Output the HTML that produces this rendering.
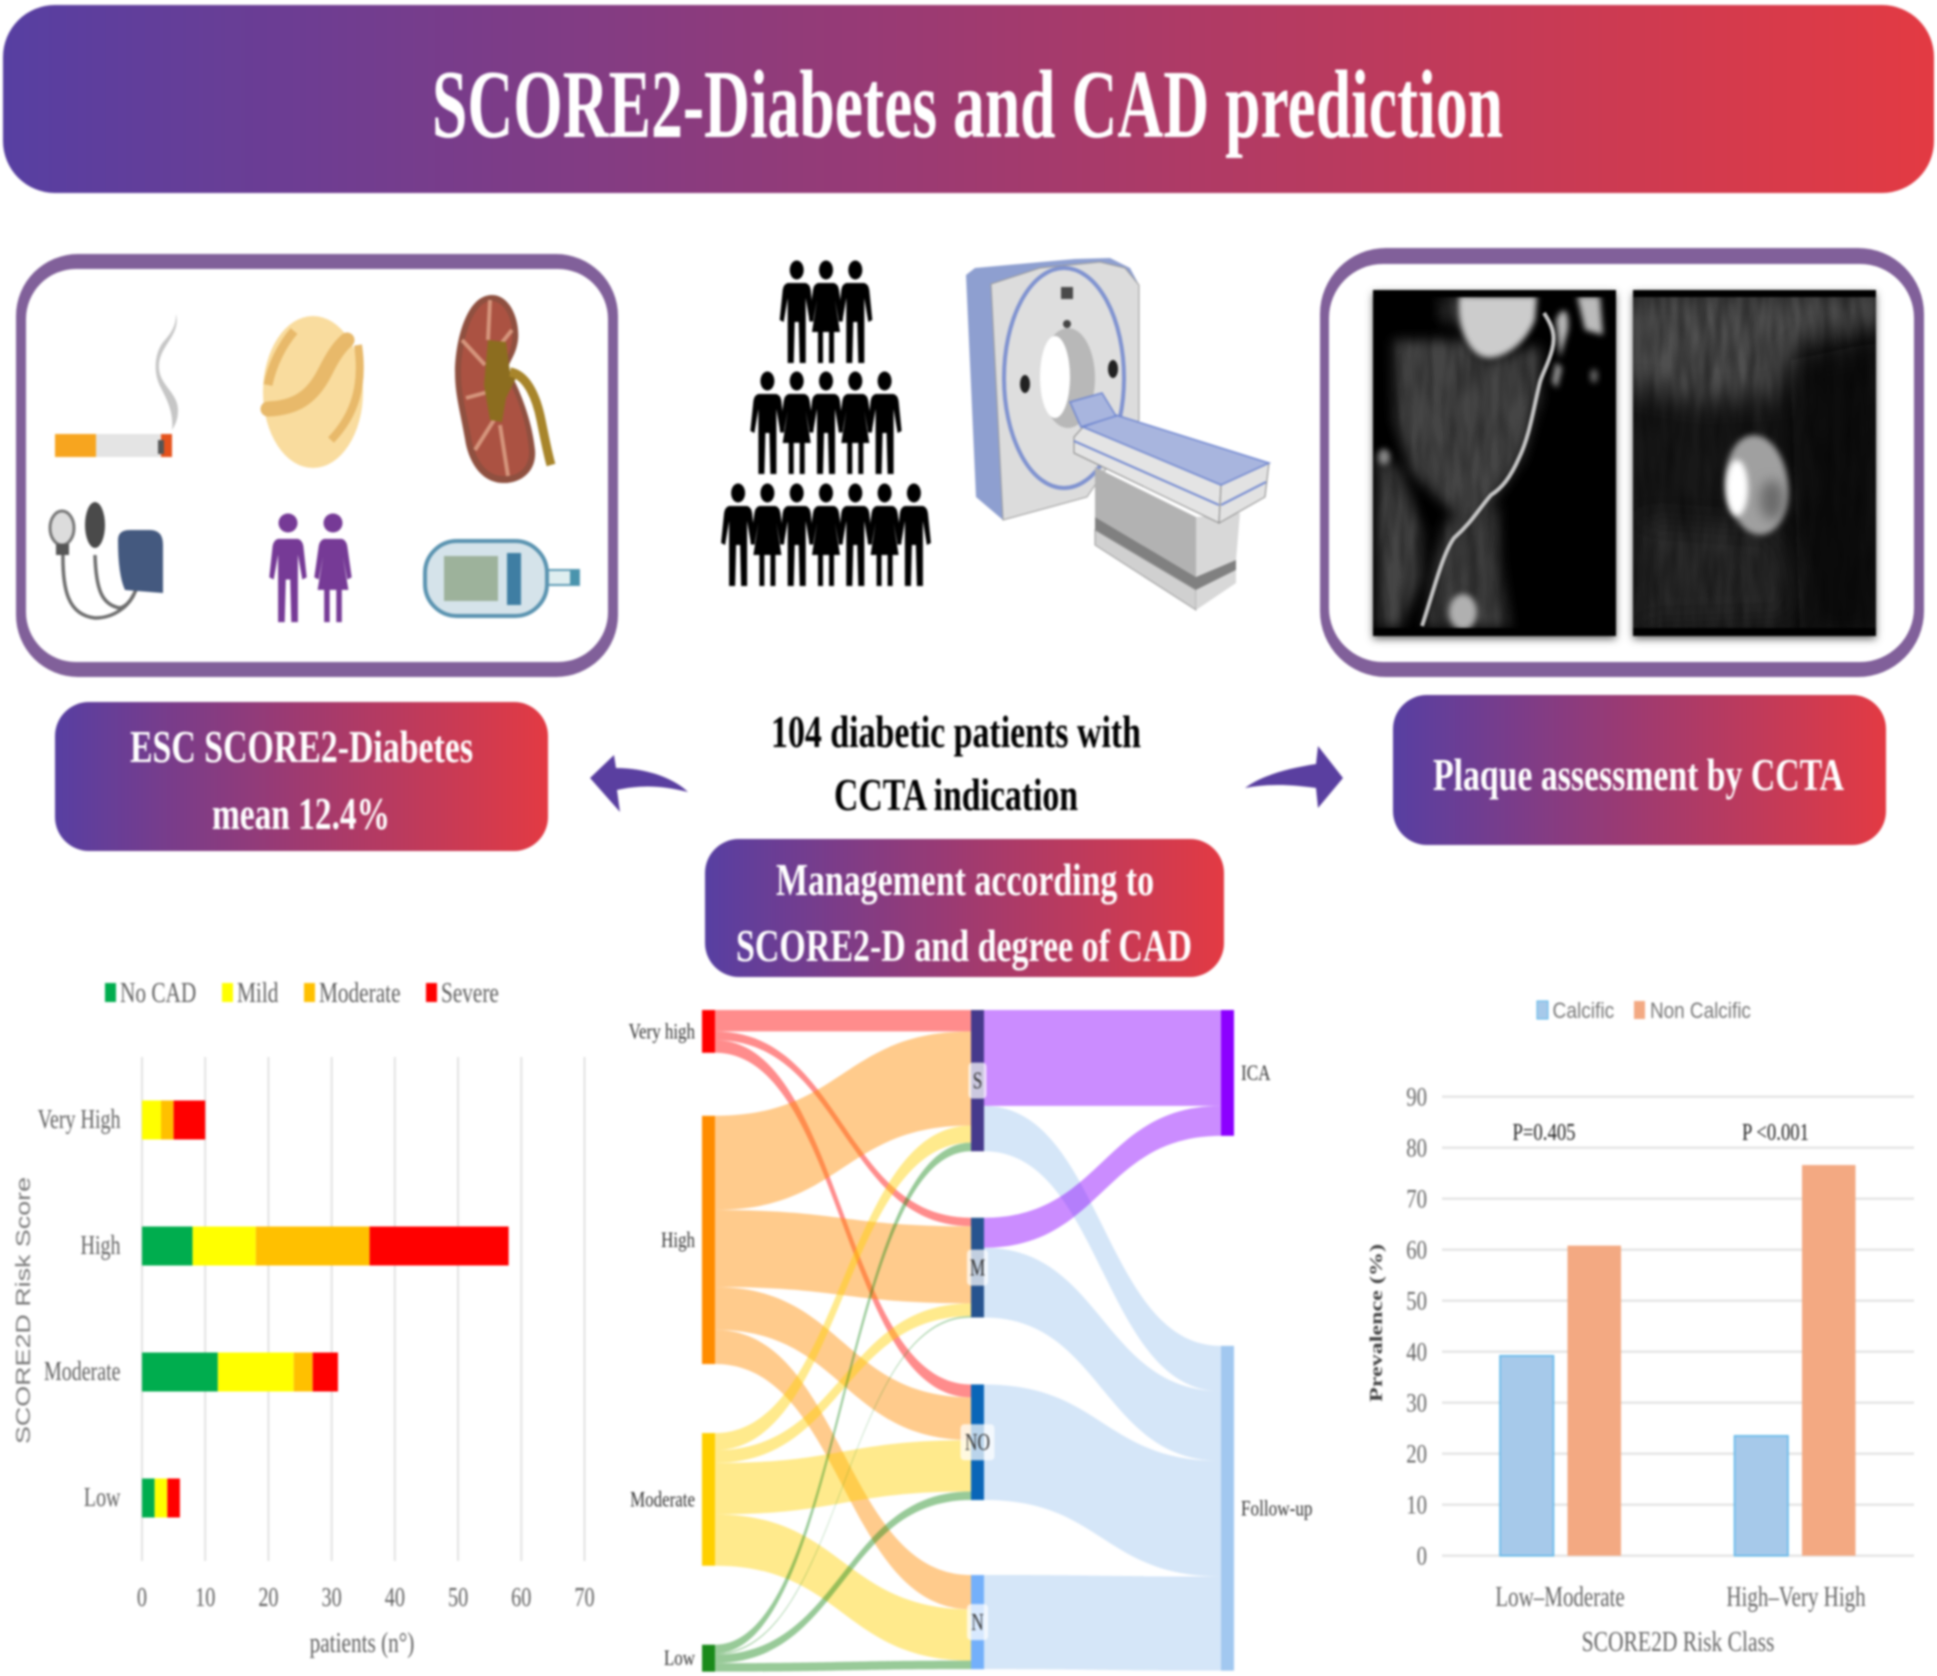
<!DOCTYPE html>
<html lang="en">
<head>
<meta charset="utf-8">
<title>SCORE2-Diabetes and CAD prediction</title>
<style>
html,body{margin:0;padding:0;background:#fff;}
#stage{display:block;width:1937px;height:1676px;filter:blur(1.1px);}
.serif{font-family:"Liberation Serif",serif;}
.sans{font-family:"Liberation Sans",sans-serif;}
.pilltxt{font-family:"Liberation Serif",serif;font-weight:bold;fill:#fff;font-size:46px;}
.blacktxt{font-family:"Liberation Serif",serif;font-weight:bold;fill:#000;font-size:46px;}
</style>
</head>
<body>
<svg id="stage" xmlns="http://www.w3.org/2000/svg" width="1937" height="1676" viewBox="0 0 1937 1676">
<defs>
<linearGradient id="brandGrad" x1="0" y1="0" x2="1" y2="0">
<stop offset="0" stop-color="#573fa2"/><stop offset="0.5" stop-color="#9f3a70"/><stop offset="1" stop-color="#e33a43"/>
</linearGradient>
<filter id="soft3" x="-50%" y="-50%" width="200%" height="200%"><feGaussianBlur stdDeviation="3"/></filter>
<filter id="soft6" x="-50%" y="-50%" width="200%" height="200%"><feGaussianBlur stdDeviation="6"/></filter>
<filter id="soft14" x="-50%" y="-50%" width="200%" height="200%"><feGaussianBlur stdDeviation="14"/></filter>
<filter id="shadow" x="-5%" y="-5%" width="110%" height="110%"><feGaussianBlur stdDeviation="4"/></filter>
<filter id="streaks" x="0" y="0" width="100%" height="100%">
<feTurbulence type="fractalNoise" baseFrequency="0.09 0.018" numOctaves="2" seed="4"/>
<feColorMatrix values="0 0 0 0 0  0 0 0 0 0  0 0 0 0 0  0 0 0 1.5 -0.45"/>
</filter>
<path id="manShape" d="M-9 23L9 23Q13 24 14 30L17 60L13 62L9 38L9 103L3 103L2 62L-2 62L-3 103L-9 103L-9 38L-13 62L-17 60L-14 30Q-13 24-9 23Z"/>
<path id="womanShape" d="M-8 23L8 23Q12 24 13 30L17 60L13 62L9 40L14 72L8 72L8 103L3 103L3 72L-3 72L-3 103L-8 103L-8 72L-14 72L-9 40L-13 62L-17 60L-13 30Q-12 24-8 23Z"/>
</defs>
<rect width="1937" height="1676" fill="#fff"/>

<!-- Header -->
<g>
<rect x="3" y="5" width="1931" height="188" rx="52" ry="52" fill="url(#brandGrad)"/>
<text x="432" y="137" class="serif" font-weight="bold" font-size="98" fill="#fff" textLength="1071" lengthAdjust="spacingAndGlyphs">SCORE2-Diabetes and CAD prediction</text>
</g>

<!-- Left risk factor box -->
<g>
<rect x="16" y="254" width="602" height="423" rx="62" ry="62" fill="#81609a"/>
<rect x="26" y="269" width="582" height="393" rx="50" ry="50" fill="#fff"/>
<g>
<rect x="55" y="434" width="41" height="23" fill="#f7a51f"/>
<rect x="96" y="434" width="65" height="23" fill="#e4e4e4"/>
<rect x="161" y="434" width="11" height="23" fill="#e5521c"/>
<rect x="158" y="440" width="6" height="14" fill="#555"/>
<path d="M176 314C181 335 160 345 159 365C158 385 178 392 178 410C178 420 175 425 172 430C174 412 166 398 161 388C152 372 155 350 165 340C172 332 176 325 176 314Z" fill="#c6c6c6"/>
</g>
<g>
<ellipse cx="313" cy="392" rx="50" ry="76" fill="#f9dc9e"/>
<path d="M268 409C295 408 312 398 325 372C332 358 338 348 347 340" fill="none" stroke="#e8b96a" stroke-width="15" stroke-linecap="round"/>
<path d="M268 385C272 365 282 345 294 331" fill="none" stroke="#e8b96a" stroke-width="9"/>
<path d="M358 345C364 385 355 415 331 440" fill="none" stroke="#e8b96a" stroke-width="8"/>
</g>
<g>
<path d="M492 295C510 295 520 320 518 340C516 355 510 360 508 368C520 390 532 420 535 450C537 472 520 484 502 483C480 482 468 460 465 439C460 410 455 395 455 372C455 345 465 295 492 295Z" fill="#8f5040"/>
<path d="M492 301C506 302 514 322 512 340C510 358 502 362 504 372C516 392 527 422 529 450C530 468 518 477 502 476C484 475 474 456 471 437C466 410 461 395 461 372C461 348 470 301 492 301Z" fill="#ab5242"/>
<path d="M490 300L488 340M462 340L485 365M466 398L488 392M475 450L494 420M508 476L500 425M512 330L500 345" stroke="#d5957c" stroke-width="4" fill="none"/>
<path d="M488 340L506 342L510 372L517 376L506 398L502 422L490 420L484 385Z" fill="#8c6d1f"/>
<path d="M510 372C528 375 537 400 541 420C545 440 548 455 551 465" fill="none" stroke="#a8852b" stroke-width="9"/>
</g>
<g>
<path d="M63 550C62 590 68 615 95 618C115 618 130 605 135 592M95 555C96 590 102 605 120 608C128 606 132 598 136 590" fill="none" stroke="#6e6e6e" stroke-width="3.5"/>
<ellipse cx="62" cy="528" rx="12" ry="17" fill="#dcdcdc" stroke="#777" stroke-width="3"/>
<rect x="56" y="544" width="13" height="11" fill="#555"/>
<ellipse cx="95" cy="525" rx="10" ry="23" fill="#4a4a4a"/>
<path d="M118 540Q118 530 130 530L150 530Q163 530 163 545L163 593L125 590Q118 575 118 540Z" fill="#44597f"/>
</g>
<g fill="#763a96">
<circle cx="288" cy="523" r="9.5"/>
<circle cx="333" cy="523" r="9.5"/>
<use href="#manShape" transform="translate(288,515) scale(1.1,1.04)"/>
<use href="#womanShape" transform="translate(333,515) scale(1.1,1.04)"/>
</g>
<g>
<rect x="543" y="570" width="36" height="15" fill="#dfeef0" stroke="#5e9bb5" stroke-width="2"/>
<rect x="570" y="570" width="9" height="15" fill="#4a94ad"/>
<rect x="425" y="541" width="122" height="75" rx="32" ry="32" fill="#d5e3ea" stroke="#5a93b0" stroke-width="4"/>
<rect x="444" y="556" width="54" height="45" fill="#9db29b"/>
<rect x="507" y="553" width="14" height="52" fill="#3f7ea3"/>
</g>
</g>

<!-- People pyramid -->
<g id="peopleGroup" fill="#000"></g>

<!-- CT scanner -->
<g>
<path d="M966 275L975 268L1075 259L1110 258L1130 268L1139 285L1003 520L976 497Z" fill="#8e9fd0"/>
<path d="M991 284L1040 268L1100 262L1125 268L1139 285L1139 420L1087 497L1003 520Z" fill="#dcdcdc" stroke="#999" stroke-width="1"/>
<ellipse cx="1064" cy="378" rx="60" ry="110" fill="#dedede" stroke="#7f92d0" stroke-width="4"/>
<ellipse cx="1068" cy="378" rx="27" ry="50" fill="#b8b8b8"/>
<ellipse cx="1055" cy="377" rx="15" ry="41" fill="#fff"/>
<rect x="1061" y="287" width="12" height="12" fill="#4a4a4a"/>
<circle cx="1067" cy="324" r="4" fill="#444"/>
<ellipse cx="1113" cy="369" rx="5" ry="9" fill="#222"/>
<ellipse cx="1025" cy="384" rx="5" ry="9" fill="#222"/>
<path d="M1095 467L1196 517L1196 577L1095 517Z" fill="#b2b2b2"/>
<path d="M1095 517L1196 577L1196 590L1095 530Z" fill="#808080"/>
<path d="M1095 530L1196 590L1196 610L1095 545Z" fill="#d0d0d0" stroke="#999" stroke-width="1"/>
<path d="M1196 517L1240 513L1236 560L1196 577Z" fill="#d8d8d8"/>
<path d="M1196 577L1236 560L1236 570L1196 590Z" fill="#808080"/>
<path d="M1196 590L1236 570L1236 583L1196 610Z" fill="#d8d8d8"/>
<path d="M1074 437L1083 427L1221 485L1219 523L1074 453Z" fill="#e4e4e4" stroke="#888" stroke-width="1"/>
<path d="M1074 441L1219 505" stroke="#6f86d0" stroke-width="2" fill="none"/>
<path d="M1221 485L1269 463L1265 497L1219 523Z" fill="#e2e2e2" stroke="#888" stroke-width="1"/>
<path d="M1221 505L1266 482" stroke="#6f86d0" stroke-width="2" fill="none"/>
<path d="M1083 427L1116 415L1269 463L1221 485Z" fill="#a8b5de" stroke="#6f86d0" stroke-width="1.5"/>
<path d="M1070 402L1102 393L1116 416L1081 427Z" fill="#a8b5de" stroke="#6f86d0" stroke-width="1.5"/>
</g>

<!-- Right imaging panel -->
<g>
<rect x="1320" y="248" width="604" height="429" rx="66" ry="66" fill="#81609a"/>
<rect x="1329" y="264" width="585" height="398" rx="54" ry="54" fill="#fff"/>
<rect x="1373" y="293" width="243" height="346" fill="#666" filter="url(#shadow)"/>
<rect x="1633" y="293" width="243" height="346" fill="#666" filter="url(#shadow)"/>
<svg x="1373" y="290" width="243" height="346" viewBox="1373 290 243 346">
<rect x="1373" y="290" width="243" height="346" fill="#000"/>
<g filter="url(#soft6)">
<path d="M1393 340L1460 340L1490 360L1540 345L1540 400L1522 460L1490 505L1460 520L1440 500L1410 470L1395 420Z" fill="#444"/>
<path d="M1446 520L1498 505L1500 560L1510 628L1425 628L1432 570Z" fill="#3e3e3e"/>
<path d="M1440 296L1470 296L1470 330L1440 320Z" fill="#303030"/>
<path d="M1378 455L1400 470L1422 530L1420 580L1400 628L1378 628Z" fill="#444"/>
</g>
<rect x="1373" y="290" width="243" height="346" filter="url(#streaks)" opacity="0.45"/>
<path d="M1459 296L1537 296L1535 320C1525 345 1505 357 1490 358C1470 358 1456 330 1459 296Z" fill="#cccccc" filter="url(#soft3)"/>
<path d="M1577 296L1600 296L1603 335L1585 330Z" fill="#bbb" filter="url(#soft3)"/>
<path d="M1556 320C1562 305 1570 308 1568 330L1560 358Z" fill="#b8b8b8" filter="url(#soft3)"/>
<path d="M1556 362L1562 368L1557 388L1552 382Z" fill="#a0a0a0" filter="url(#soft3)"/>
<path d="M1544 313C1552 325 1556 335 1552 350C1548 365 1543 372 1540 382C1533 410 1530 435 1519 458C1510 478 1502 488 1491 495C1478 510 1472 522 1454 538C1442 555 1434 590 1422 626" fill="none" stroke="#c4c4c4" stroke-width="4"/>
<ellipse cx="1463" cy="612" rx="14" ry="18" fill="#b0b0b0" filter="url(#soft3)"/>
<ellipse cx="1384" cy="457" rx="6" ry="8" fill="#888" filter="url(#soft3)"/>
<ellipse cx="1594" cy="376" rx="4" ry="7" fill="#666" filter="url(#soft3)"/>
<rect x="1373" y="290" width="243" height="7" fill="#000"/>
<rect x="1373" y="628" width="243" height="8" fill="#000"/>
</svg>
<svg x="1633" y="290" width="243" height="346" viewBox="1633 290 243 346">
<rect x="1633" y="290" width="243" height="346" fill="#181818"/>
<path d="M1625 290L1885 290L1885 325L1800 345L1790 395L1700 400L1625 385Z" fill="#505050" filter="url(#soft14)"/>
<path d="M1640 520L1780 530L1800 620L1640 625Z" fill="#2c2c2c" filter="url(#soft14)"/>
<path d="M1790 360L1885 340L1885 640L1800 640Z" fill="#070707" filter="url(#soft14)"/>
<rect x="1633" y="290" width="243" height="346" filter="url(#streaks)" opacity="0.5"/>
<ellipse cx="1757" cy="485" rx="31" ry="50" fill="#a0a0a0" filter="url(#soft3)" transform="rotate(-6 1757 485)"/>
<ellipse cx="1772" cy="500" rx="12" ry="20" fill="#6a6a6a" filter="url(#soft6)"/>
<ellipse cx="1737" cy="488" rx="11" ry="28" fill="#fff" filter="url(#soft3)"/>
<rect x="1633" y="290" width="243" height="7" fill="#000"/>
<rect x="1633" y="628" width="243" height="8" fill="#000"/>
</svg>
</g>

<!-- Gradient pills and centre text -->
<g>
<rect x="55" y="702" width="493" height="149" rx="34" ry="34" fill="url(#brandGrad)"/>
<text x="130" y="762" class="pilltxt" textLength="343" lengthAdjust="spacingAndGlyphs">ESC SCORE2-Diabetes</text>
<text x="212" y="829" class="pilltxt" textLength="178" lengthAdjust="spacingAndGlyphs">mean 12.4%</text>
</g>
<g>
<rect x="1393" y="695" width="493" height="150" rx="34" ry="34" fill="url(#brandGrad)"/>
<text x="1433" y="790" class="pilltxt" textLength="411" lengthAdjust="spacingAndGlyphs">Plaque assessment by CCTA</text>
</g>
<g>
<rect x="705" y="839" width="519" height="138" rx="34" ry="34" fill="url(#brandGrad)"/>
<text x="776" y="895" class="pilltxt" textLength="378" lengthAdjust="spacingAndGlyphs">Management according to</text>
<text x="736" y="961" class="pilltxt" textLength="456" lengthAdjust="spacingAndGlyphs">SCORE2-D and degree of CAD</text>
</g>
<text x="771" y="747" class="blacktxt" textLength="370" lengthAdjust="spacingAndGlyphs">104 diabetic patients with</text>
<text x="834" y="810" class="blacktxt" textLength="244" lengthAdjust="spacingAndGlyphs">CCTA indication</text>
<path d="M590 778L614 755L616 768C640 768 670 775 688 792C660 785 640 785 617 790L620 812Z" fill="#5a3fa0"/>
<path d="M1343 778L1318 746L1316 764C1290 768 1262 775 1245 788C1270 783 1295 785 1316 788L1318 808Z" fill="#5a3fa0"/>

<g id="stackedChart"></g>
<g id="sankeyChart"></g>
<g id="prevalenceChart"></g>
</svg>

<script>
// ---- Stacked bar chart data ----
const riskCategories = ['Very High', 'High', 'Moderate', 'Low'];
const noCadCounts = [0, 8, 12, 2];
const mildCounts = [3, 10, 12, 2];
const moderateCounts = [2, 18, 3, 0];
const severeCounts = [5, 22, 4, 2];
const patientTicks = [0, 10, 20, 30, 40, 50, 60, 70];
const severityNames = ['No CAD', 'Mild', 'Moderate', 'Severe'];

// ---- Sankey data ----
const riskNodes = ['Very high', 'High', 'Moderate', 'Low'];
const severityNodes = ['S', 'M', 'NO', 'N'];
const outcomeNodes = ['ICA', 'Follow-up'];
const veryHighFlows = [5, 2, 3, 0];
const highFlows = [22, 18, 10, 8];
const moderateFlows = [4, 3, 12, 12];
const lowFlows = [2, 0.3, 2, 2];
const severeOutcomes = [22.4, 10.6];
const mildOutcomes = [7, 16.3];
const noneOutcomes = [0, 27];
const nearOutcomes = [0, 22];

// ---- Prevalence chart data ----
const riskClasses = ['Low–Moderate', 'High–Very High'];
const calcificPrevalence = [39.2, 23.5];
const nonCalcificPrevalence = [60.8, 76.6];
const prevalenceTicks = [0, 10, 20, 30, 40, 50, 60, 70, 80, 90];
const pValues = ['P=0.405', 'P <0.001'];

const SVGNS = 'http://www.w3.org/2000/svg';
function make(tag, parent, attrs) {
  const el = document.createElementNS(SVGNS, tag);
  for (const k in attrs) el.setAttribute(k, attrs[k]);
  parent.appendChild(el);
  return el;
}
function label(parent, x, y, str, size, sx, anchor, fill, family) {
  const el = make('text', parent, {
    transform: 'translate(' + x + ' ' + y + ') scale(' + sx + ' 1)',
    'text-anchor': anchor,
    'font-size': size,
    fill: fill,
    'font-family': family
  });
  el.textContent = str;
  return el;
}
const SERIF = '"Liberation Serif", serif';
const SANS = '"Liberation Sans", sans-serif';

// ---- People pyramid ----
(function () {
  const root = document.getElementById('peopleGroup');
  const rowCounts = [3, 5, 7];
  const rowTops = [260, 371, 483];
  const centre = 826;
  const step = 29.3;
  rowCounts.forEach(function (count, r) {
    for (let i = 0; i < count; i++) {
      const cx = centre + (i - (count - 1) / 2) * step;
      const isMan = (i + (count - 1) / 2) % 2 === 1 ? (r !== 1) : (r === 1);
      const g = make('g', root, { transform: 'translate(' + cx + ' ' + rowTops[r] + ')' });
      
      
      make('ellipse', g, { cx: 0, cy: 10, rx: 7, ry: 9.5 });
      make('use', g, { href: isMan ? '#manShape' : '#womanShape' });
    }
  });
})();

// ---- Stacked chart ----
(function () {
  const root = document.getElementById('stackedChart');
  const x = function (v) { return 142 + v * (584.5 - 142) / 70; };
  const plotTop = 1057, plotBottom = 1561;
  const bandH = (plotBottom - plotTop) / riskCategories.length;
  const bandY = function (i) { return plotTop + bandH * (i + 0.5); };
  const barH = 39;
  const colors = ['#00ad4e', '#ffff00', '#ffc000', '#ff0000'];
  const series = [noCadCounts, mildCounts, moderateCounts, severeCounts];
  const GREY = '#606060';

  patientTicks.forEach(function (t) {
    const ln = make('line', root, { x1: x(t), x2: x(t), y1: plotTop, y2: plotBottom, stroke: '#e2e2e2', 'stroke-width': 2 });
    
    
    const tx = label(root, x(t), 1606, String(t), 27, 0.75, 'middle', GREY, SERIF);
    
    
  });

  riskCategories.forEach(function (name, i) {
    const tx = label(root, 120.5, bandY(i) + 8, name, 27, 0.74, 'end', GREY, SERIF);
    
    
    let acc = 0;
    series.forEach(function (vals, s) {
      const v = vals[i];
      if (v > 0) {
        const r = make('rect', root, { x: x(acc), y: bandY(i) - barH / 2, width: x(acc + v) - x(acc), height: barH, fill: colors[s] });
        
        
      }
      acc += v;
    });
  });

  const legendX = [105, 222, 304, 426];
  severityNames.forEach(function (name, s) {
    const sq = make('rect', root, { x: legendX[s], y: 983, width: 11, height: 19, fill: colors[s] });
    
    
    const tx = label(root, legendX[s] + 15, 1002, name, 28, 0.76, 'start', GREY, SERIF);
    
    
  });

  const xTitle = label(root, 362, 1652, 'patients (n°)', 28, 0.76, 'middle', GREY, SERIF);
  
  
  const yTitle = make('text', root, {
    transform: 'translate(30 1444) rotate(-90)',
    'font-size': 20,
    fill: '#7a7a7a',
    'font-family': SANS,
    textLength: 267,
    lengthAdjust: 'spacingAndGlyphs'
  });
  yTitle.textContent = 'SCORE2D Risk Score';
  
  
})();

// ---- Sankey ----
(function () {
  const root = document.getElementById('sankeyChart');
  const unit = 4.28;
  const top = 1010;
  const nodeW = 13;
  const colX = [702, 971, 1221];
  const leftGaps = [63, 69, 79];
  const midGaps = [66.5, 67, 75];
  const rightGaps = [210];
  const riskFlows = [veryHighFlows, highFlows, moderateFlows, lowFlows];
  const outcomeFlows = [severeOutcomes, mildOutcomes, noneOutcomes, nearOutcomes];
  const sum = function (a) { return a.reduce(function (p, c) { return p + c; }, 0); };
  const layout = function (totals, gaps) {
    let y = top;
    return totals.map(function (t, i) {
      const h = t * unit;
      const n = { y: y, h: h };
      y += h + (gaps[i] || 0);
      return n;
    });
  };
  const midTotals = severityNodes.map(function (_, j) {
    return sum(riskFlows.map(function (f) { return f[j]; }));
  });
  const outTotals = outcomeNodes.map(function (_, k) {
    return sum(outcomeFlows.map(function (f) { return f[k]; }));
  });
  const leftN = layout(riskFlows.map(sum), leftGaps);
  const midN = layout(midTotals, midGaps);
  const rightN = layout(outTotals, rightGaps);

  const leftColors = ['#ff0000', '#ff8c00', '#ffd000', '#1a8a1a'];
  const midColors = ['#463a8c', '#27548f', '#0a66b8', '#74b0fa'];
  const rightColors = ['#8c00ff', '#a2c8f0'];

  function ribbon(x0, y0, x1, y1, h, color) {
    const xm = (x0 + x1) / 2;
    const d = 'M' + x0 + ' ' + y0 +
      'C' + xm + ' ' + y0 + ' ' + xm + ' ' + y1 + ' ' + x1 + ' ' + y1 +
      'L' + x1 + ' ' + (y1 + h) +
      'C' + xm + ' ' + (y1 + h) + ' ' + xm + ' ' + (y0 + h) + ' ' + x0 + ' ' + (y0 + h) + 'Z';
    return make('path', root, { d: d, fill: color, 'fill-opacity': 0.45 });
  }
  function flows(matrix, srcNodes, dstNodes, x0, x1, colorFor) {
    const srcOff = srcNodes.map(function () { return 0; });
    const dstOff = dstNodes.map(function () { return 0; });
    matrix.forEach(function (row, i) {
      row.forEach(function (v, j) {
        if (v <= 0) return;
        const h = v * unit;
        const p = ribbon(x0, srcNodes[i].y + srcOff[i], x1, dstNodes[j].y + dstOff[j], h, colorFor(i, j));
        
        
        srcOff[i] += h;
        dstOff[j] += h;
      });
    });
  }
  flows(riskFlows, leftN, midN, colX[0] + nodeW, colX[1], function (i) { return leftColors[i]; });
  flows(outcomeFlows, midN, rightN, colX[1] + nodeW, colX[2], function (i, j) { return rightColors[j]; });

  function nodes(list, x, colors, names) {
    list.forEach(function (n, i) {
      const r = make('rect', root, { x: x, y: n.y, width: nodeW, height: n.h, fill: colors[i] });
      
      
      r.setAttribute('aria-label', names[i]);
    });
  }
  nodes(leftN, colX[0], leftColors, riskNodes);
  nodes(midN, colX[1], midColors, severityNodes);
  nodes(rightN, colX[2], rightColors, outcomeNodes);

  riskNodes.forEach(function (name, i) {
    const tx = label(root, 695, leftN[i].y + leftN[i].h / 2 + 7, name, 22, 0.77, 'end', '#333', SERIF);
    
    
  });
  severityNodes.forEach(function (name, i) {
    const cy = midN[i].y + midN[i].h / 2;
    const w = name.length > 1 ? 34 : (name === 'S' ? 18 : 21);
    const pill = make('rect', root, { x: colX[1] + nodeW / 2 - w / 2, y: cy - 18, width: w, height: 36, rx: 4, fill: '#fff', 'fill-opacity': 0.72 });
    
    
    const tx = label(root, colX[1] + nodeW / 2, cy + 8, name, 24, 0.72, 'middle', '#333', SERIF);
    
    
  });
  outcomeNodes.forEach(function (name, i) {
    const tx = label(root, 1241, rightN[i].y + rightN[i].h / 2 + 7, name, 22, 0.78, 'start', '#333', SERIF);
    
    
  });
})();

// ---- Prevalence chart ----
(function () {
  const root = document.getElementById('prevalenceChart');
  const y = function (v) { return 1555.7 - v * (1555.7 - 1096.7) / 90; };
  const GREY = '#666';
  prevalenceTicks.forEach(function (t) {
    const ln = make('line', root, { x1: 1442, x2: 1914, y1: y(t), y2: y(t), stroke: '#e4e4e4', 'stroke-width': 2.4 });
    
    
    const tx = label(root, 1427, y(t) + 9, String(t), 26, 0.8, 'end', GREY, SERIF);
    
    
  });
  const groupX = [1500, 1734.5];
  const barW = 53.5;
  const nonOffset = 67.5;
  const catCentre = [1560, 1796];
  const pCentre = [1544, 1775.5];
  riskClasses.forEach(function (name, i) {
    const c = make('rect', root, { x: groupX[i], y: y(calcificPrevalence[i]), width: barW, height: y(0) - y(calcificPrevalence[i]), fill: '#a6c9ea', stroke: '#5db7ea', 'stroke-width': 1.5 });
    
    
    const n = make('rect', root, { x: groupX[i] + nonOffset, y: y(nonCalcificPrevalence[i]), width: barW, height: y(0) - y(nonCalcificPrevalence[i]), fill: '#f3a982' });
    
    
    const cat = label(root, catCentre[i], 1606, name, 28, 0.75, 'middle', GREY, SERIF);
    
    
    const pv = label(root, pCentre[i], 1140, pValues[i], 24, 0.78, 'middle', '#222', SERIF);
    
    
  });
  const s1 = make('rect', root, { x: 1537, y: 1001, width: 11, height: 18, fill: '#a6c9ea', stroke: '#5db7ea', 'stroke-width': 1 });
  
  
  const l1 = label(root, 1552.5, 1018, 'Calcific', 22, 0.87, 'start', '#777', SANS);
  
  
  const s2 = make('rect', root, { x: 1634, y: 1001, width: 11, height: 18, fill: '#f3a982' });
  
  
  const l2 = label(root, 1650, 1018, 'Non Calcific', 22, 0.86, 'start', '#777', SANS);
  
  
  const xt = label(root, 1678, 1651, 'SCORE2D Risk Class', 28, 0.77, 'middle', GREY, SERIF);
  
  
  const yt = make('text', root, {
    transform: 'translate(1382 1402) rotate(-90)',
    'font-size': 18,
    'font-weight': 'bold',
    fill: '#444',
    'font-family': SERIF,
    textLength: 158,
    lengthAdjust: 'spacingAndGlyphs'
  });
  yt.textContent = 'Prevalence (%)';
  
  
})();
</script>
</body>
</html>
